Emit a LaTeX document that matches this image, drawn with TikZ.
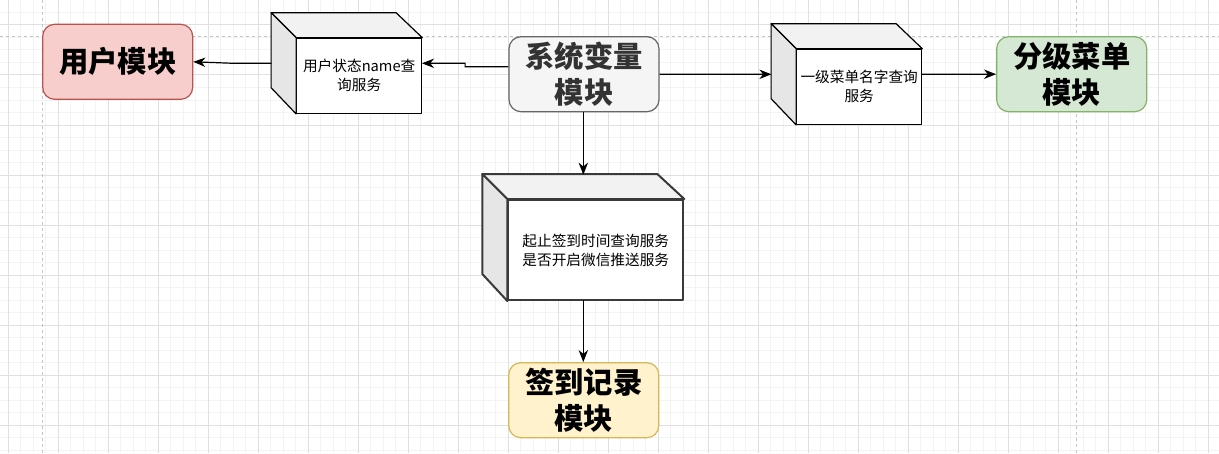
\documentclass[tikz,border=0pt]{standalone}
\usepackage{fontspec}
\setmainfont{Noto Sans CJK SC}
\usetikzlibrary{arrows.meta}
\definecolor{usrfill}{HTML}{F8CECC}
\definecolor{usrdraw}{HTML}{B85450}
\definecolor{sysfill}{HTML}{F5F5F5}
\definecolor{sysdraw}{HTML}{666666}
\definecolor{systext}{HTML}{333333}
\definecolor{fenfill}{HTML}{D5E8D4}
\definecolor{fendraw}{HTML}{82B366}
\definecolor{qdfill}{HTML}{FFF2CC}
\definecolor{qddraw}{HTML}{D6B656}
\definecolor{cubetop}{HTML}{F2F2F2}
\definecolor{cubeside}{HTML}{E6E6E6}
\definecolor{gridminor}{HTML}{F3F3F3}
\definecolor{gridmajor}{HTML}{E0E0E0}
\definecolor{pageline}{HTML}{C4C4C4}
\definecolor{cubedark}{HTML}{3A3A3A}
\begin{document}
\begin{tikzpicture}[x=0.75pt,y=-0.75pt,
  module/.style={draw, rounded corners=9pt, line width=0.9pt, minimum width=112.5pt,
    minimum height=56.25pt, inner sep=0pt, align=center,
    font=\fontsize{22}{26.5}\selectfont\bfseries},
  cubeface/.style={draw, fill=white, inner sep=0pt, align=center,
    font=\fontsize{11}{14.25}\selectfont, line join=round},
  cubethin/.style={line width=0.9pt, draw=black},
  cubethick/.style={line width=1.5pt, draw=cubedark},
  topface/.style={fill=cubetop, line join=round},
  sideface/.style={fill=cubeside, line join=round},
  cubearea/.style={inner sep=0pt},
  conn/.style={line width=0.9pt, -{Stealth[length=9pt,width=7pt,inset=2.8pt]}},
  minorline/.style={draw=gridminor, line width=0.75pt},
  majorline/.style={draw=gridmajor, line width=0.75pt},
  pagebreak/.style={draw=pageline, line width=0.75pt, dash pattern=on 2.25pt off 2.25pt},
]
\useasboundingbox (0,0) rectangle (1219,453);
\fill[white] (0,0) rectangle (1219,453);
% grid
\foreach \i in {0,...,98} \path[minorline] ({-4.1667+12.5*\i},0) -- ({-4.1667+12.5*\i},453);
\foreach \j in {0,...,36} \path[minorline] (0,{12.5*\j}) -- (1219,{12.5*\j});
\foreach \i in {0,...,24} \path[majorline] ({8.3333+50*\i},0) -- ({8.3333+50*\i},453);
\foreach \j in {0,...,8} \path[majorline] (0,{25+50*\j}) -- (1219,{25+50*\j});
% page break lines
\path[pagebreak] (42.7,0) -- (42.7,453);
\path[pagebreak] (1076.7,0) -- (1076.7,453);
\path[pagebreak] (0,36.3) -- (1219,36.3);

% modules
\node[module, fill=usrfill, draw=usrdraw] (user) at (117.7,61.8) {用户模块};
\node[module, fill=sysfill, draw=sysdraw, text=systext] (sys) at (584,74.2) {系统变量\\模块};
\node[module, fill=fenfill, draw=fendraw] (fen) at (1071.7,74.2) {分级菜单\\模块};
\node[module, fill=qdfill, draw=qddraw] (qd) at (583.8,400.2) {签到记录\\模块};

% cube 1
\node[cubearea, minimum width=112.5pt, minimum height=75pt] (c1) at (346.7,63.3) {};
\node[cubeface, cubethin, minimum width=93.75pt, minimum height=56.25pt] (f1) at (359.2,75.8) {用户状态name查\\询服务};
\path[cubethin, topface] (f1.north west) -- ++(-25,-25) -- ++(125,0) -- (f1.north east) -- cycle;
\path[cubethin, sideface] (f1.north west) -- ++(-25,-25) -- ++(0,75) -- (f1.south west) -- cycle;

% cube 2
\node[cubearea, minimum width=112.5pt, minimum height=75pt] (c2) at (846.7,74.3) {};
\node[cubeface, cubethin, minimum width=93.75pt, minimum height=56.25pt] (f2) at (859.2,86.8) {一级菜单名字查询\\服务};
\path[cubethin, topface] (f2.north west) -- ++(-25,-25) -- ++(125,0) -- (f2.north east) -- cycle;
\path[cubethin, sideface] (f2.north west) -- ++(-25,-25) -- ++(0,75) -- (f2.south west) -- cycle;

% cube 3
\node[cubearea, minimum width=150pt, minimum height=93.75pt] (c3) at (583.3,237.5) {};
\node[cubeface, cubethick, minimum width=131.25pt, minimum height=75pt] (f3) at (595.8,250) {起止签到时间查询服务\\是否开启微信推送服务};
\path[cubethick, topface] (f3.north west) -- ++(-25,-25) -- ++(175,0) -- (f3.north east) -- cycle;
\path[cubethick, sideface] (f3.north west) -- ++(-25,-25) -- ++(0,100) -- (f3.south west) -- cycle;

% connectors
\draw[conn] ([yshift=5.625pt]sys.west) -- ++(-43.3,0) -- ++(0,-3.4) -- (c1.east);
\draw[conn] (c1.west) -- ++(-38,0) -- (user.east);
\draw[conn] (sys.east) -- (c2.west);
\draw[conn] (c2.east) -- (fen.west);
\draw[conn] (c3.north |- sys.south) -- (c3.north);
\draw[conn] (c3.south) -- (c3.south |- qd.north);
\end{tikzpicture}
\end{document}
